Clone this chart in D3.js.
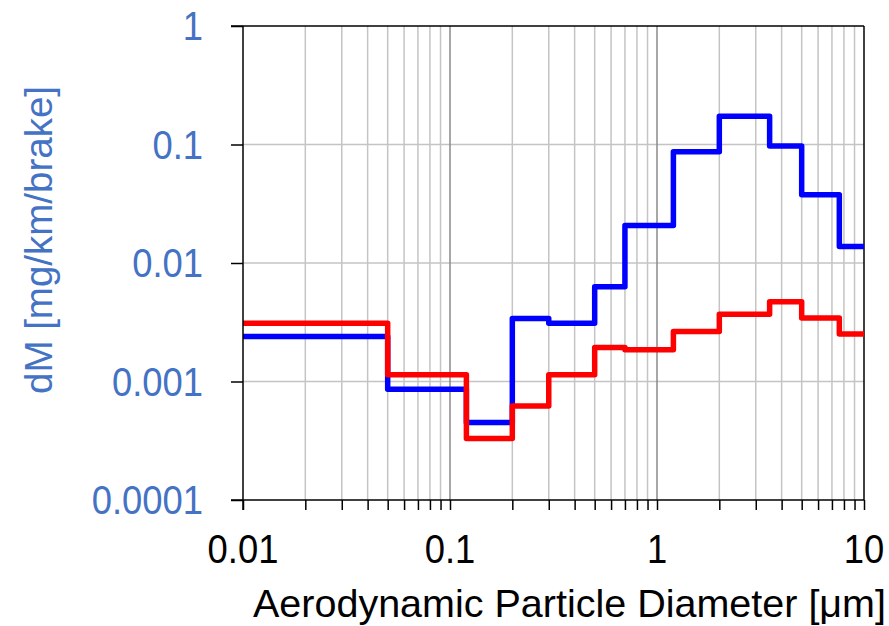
<!DOCTYPE html>
<html><head><meta charset="utf-8">
<script src="https://cdn.jsdelivr.net/npm/d3@7"></script>
<style>body{margin:0;background:#fff}svg{display:block}</style>
</head><body>
<svg id="c" width="889" height="626"></svg>
<script>
const binEdges = [0.01, 0.05, 0.12, 0.2, 0.3, 0.5, 0.7, 1.2, 2, 3.5, 5, 7.6, 10];
const blueValues = [0.0024, 0.00086, 0.00045, 0.0034, 0.0031, 0.0063, 0.0207, 0.087, 0.173, 0.097, 0.0376, 0.0138];
const redValues = [0.0031, 0.00114, 0.00033, 0.00062, 0.00114, 0.00194, 0.00185, 0.00264, 0.0037, 0.0047, 0.00343, 0.00252];
const xTickValues = [0.01, 0.1, 1, 10];
const xTickLabels = ["0.01", "0.1", "1", "10"];
const yTickValues = [0.0001, 0.001, 0.01, 0.1, 1];
const yTickLabels = ["0.0001", "0.001", "0.01", "0.1", "1"];
const xTitle = "Aerodynamic Particle Diameter [\u03bcm]";
const yTitle = "dM [mg/km/brake]";

const L = 243, R = 864, T = 26, B = 500;
const FONT = "Liberation Sans, Arial, sans-serif";
const svg = d3.select("#c");
const x = d3.scaleLog().domain([0.01, 10]).range([L, R]);
const y = d3.scaleLog().domain([0.0001, 1]).range([B, T]);

const minorX = [];
for (let d = 0.01; d < 10; d *= 10) for (let k = 2; k <= 9; k++) minorX.push(d * k);
const majorInner = [0.1, 1];

const g = svg.append("g");
g.selectAll(".hg").data(yTickValues.slice(1, -1)).join("line")
  .attr("x1", L).attr("x2", R).attr("y1", d => y(d)).attr("y2", d => y(d))
  .attr("stroke", "#c4c4c4").attr("stroke-width", 1.5);
g.selectAll(".vg").data(minorX).join("line")
  .attr("x1", d => x(d)).attr("x2", d => x(d)).attr("y1", T).attr("y2", B)
  .attr("stroke", "#c4c4c4").attr("stroke-width", 1.5);
g.selectAll(".vM").data(majorInner).join("line")
  .attr("x1", d => x(d)).attr("x2", d => x(d)).attr("y1", T).attr("y2", B)
  .attr("stroke", "#8a8a8a").attr("stroke-width", 1.5);

svg.append("line").attr("x1", L - 12).attr("x2", R).attr("y1", T).attr("y2", T).attr("stroke", "#000").attr("stroke-width", 1.5);
svg.append("line").attr("x1", R).attr("x2", R).attr("y1", T).attr("y2", B).attr("stroke", "#000").attr("stroke-width", 1.5);

const pts = vals => vals.map((v, i) => [binEdges[i], v]).concat([[binEdges[binEdges.length - 1], vals[vals.length - 1]]]);
const line = d3.line().x(d => x(d[0])).y(d => y(d[1])).curve(d3.curveStepAfter);
svg.append("path").attr("d", line(pts(blueValues))).attr("fill", "none")
  .attr("stroke", "#0000ff").attr("stroke-width", 5.5).attr("stroke-linejoin", "round");
svg.append("path").attr("d", line(pts(redValues))).attr("fill", "none")
  .attr("stroke", "#ff0000").attr("stroke-width", 5.5).attr("stroke-linejoin", "round");

const xAxis = d3.axisBottom(x).tickValues(xTickValues.concat(minorX)).tickFormat("").tickSize(10).tickSizeOuter(0);
const xg = svg.append("g").attr("transform", `translate(0,${B})`).call(xAxis);
xg.select(".domain").remove();
xg.selectAll("line").attr("stroke", "#000").attr("stroke-width", 1.5);
svg.append("line").attr("x1", L - 12).attr("x2", R).attr("y1", B).attr("y2", B).attr("stroke", "#000").attr("stroke-width", 1.5);

const yAxis = d3.axisLeft(y).tickValues(yTickValues).tickFormat("").tickSize(12).tickSizeOuter(0);
const yg = svg.append("g").attr("transform", `translate(${L},0)`).call(yAxis);
yg.select(".domain").remove();
yg.selectAll("line").attr("stroke", "#000").attr("stroke-width", 1.5);
svg.append("line").attr("x1", L).attr("x2", L).attr("y1", T).attr("y2", B + 10).attr("stroke", "#000").attr("stroke-width", 1.5);

const SX = 0.91;
svg.selectAll(".xl").data(xTickValues).join("text")
  .attr("transform", d => `translate(${x(d)},563) scale(${SX},1)`).attr("text-anchor", "middle")
  .attr("font-family", FONT).attr("font-size", 40).attr("fill", "#000")
  .text((d, i) => xTickLabels[i]);
svg.selectAll(".yl").data(yTickValues).join("text")
  .attr("transform", d => `translate(203,${y(d)}) scale(${SX},1)`).attr("dy", "0.36em").attr("text-anchor", "end")
  .attr("font-family", FONT).attr("font-size", 40).attr("fill", "#4472c4")
  .text((d, i) => yTickLabels[i]);

svg.append("text").attr("x", 886).attr("y", 617).attr("text-anchor", "end")
  .attr("font-family", FONT).attr("font-size", 39.5).attr("fill", "#000")
  .text(xTitle);
svg.append("text").attr("transform", "translate(52,240) rotate(-90)").attr("text-anchor", "middle")
  .attr("font-family", FONT).attr("font-size", 38.5).attr("fill", "#4472c4")
  .text(yTitle);
</script>
</body></html>
